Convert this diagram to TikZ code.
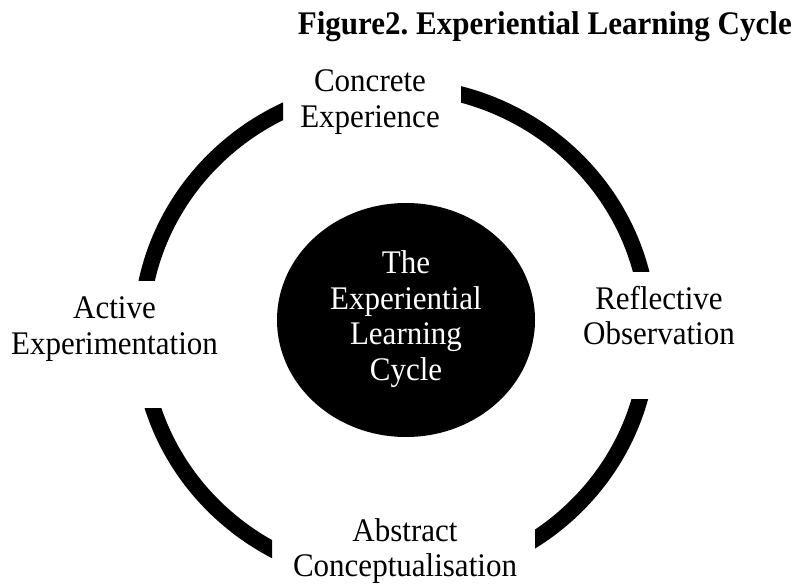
\documentclass[tikz,border=0pt]{standalone}
\usepackage{fontspec}
\setmainfont{Liberation Serif}[FakeStretch=0.94]
\frenchspacing
\usetikzlibrary{shapes.geometric}
\begin{document}
\begin{tikzpicture}[x=1pt,y=-1pt,
  stagelabel/.style={align=center,inner sep=0pt,font=\fontsize{33}{35.5}\selectfont},
  ringpart/.style={line width=16pt},
  core/.style={ellipse,fill=black,text=white,inner sep=0pt,
    minimum width=258pt,minimum height=234pt,align=center,
    font=\fontsize{33}{35.7}\selectfont}]
\useasboundingbox (0,0) rectangle (795,585);
\coordinate (ctr) at (395,333);
% outer cycle: one ellipse shown in four clipped quarters
\foreach \xa/\ya/\xb/\yb in {0/0/283/281, 461/0/795/272, 535/399/795/585, 0/408/272/585}{
  \begin{scope}
    \clip (\xa,\ya) rectangle (\xb,\yb);
    \draw[ringpart] (ctr) ellipse [x radius=254pt, y radius=247pt];
  \end{scope}
}
% centre disc
\node[core] (hub) at (406,320) {\strut The\\\strut Experiential\\\strut Learning\\\strut Cycle};
% stage labels
\node[stagelabel] (ce) at (370,102.4) {\strut Concrete\\\strut Experience};
\node[stagelabel] (ro) at (659,319.9) {\strut Reflective\\\strut Observation};
\node[stagelabel] (ac) at (405,552) {\strut Abstract\\\strut Conceptualisation};
\node[stagelabel] (ae) at (114.5,329.4) {\strut Active\\\strut Experimentation};
% heading
\node[anchor=base east,inner sep=0pt,font=\fontsize{33}{36}\selectfont\bfseries] (title) at (792,35) {Figure2. Experiential Learning Cycle};
\end{tikzpicture}
\end{document}
